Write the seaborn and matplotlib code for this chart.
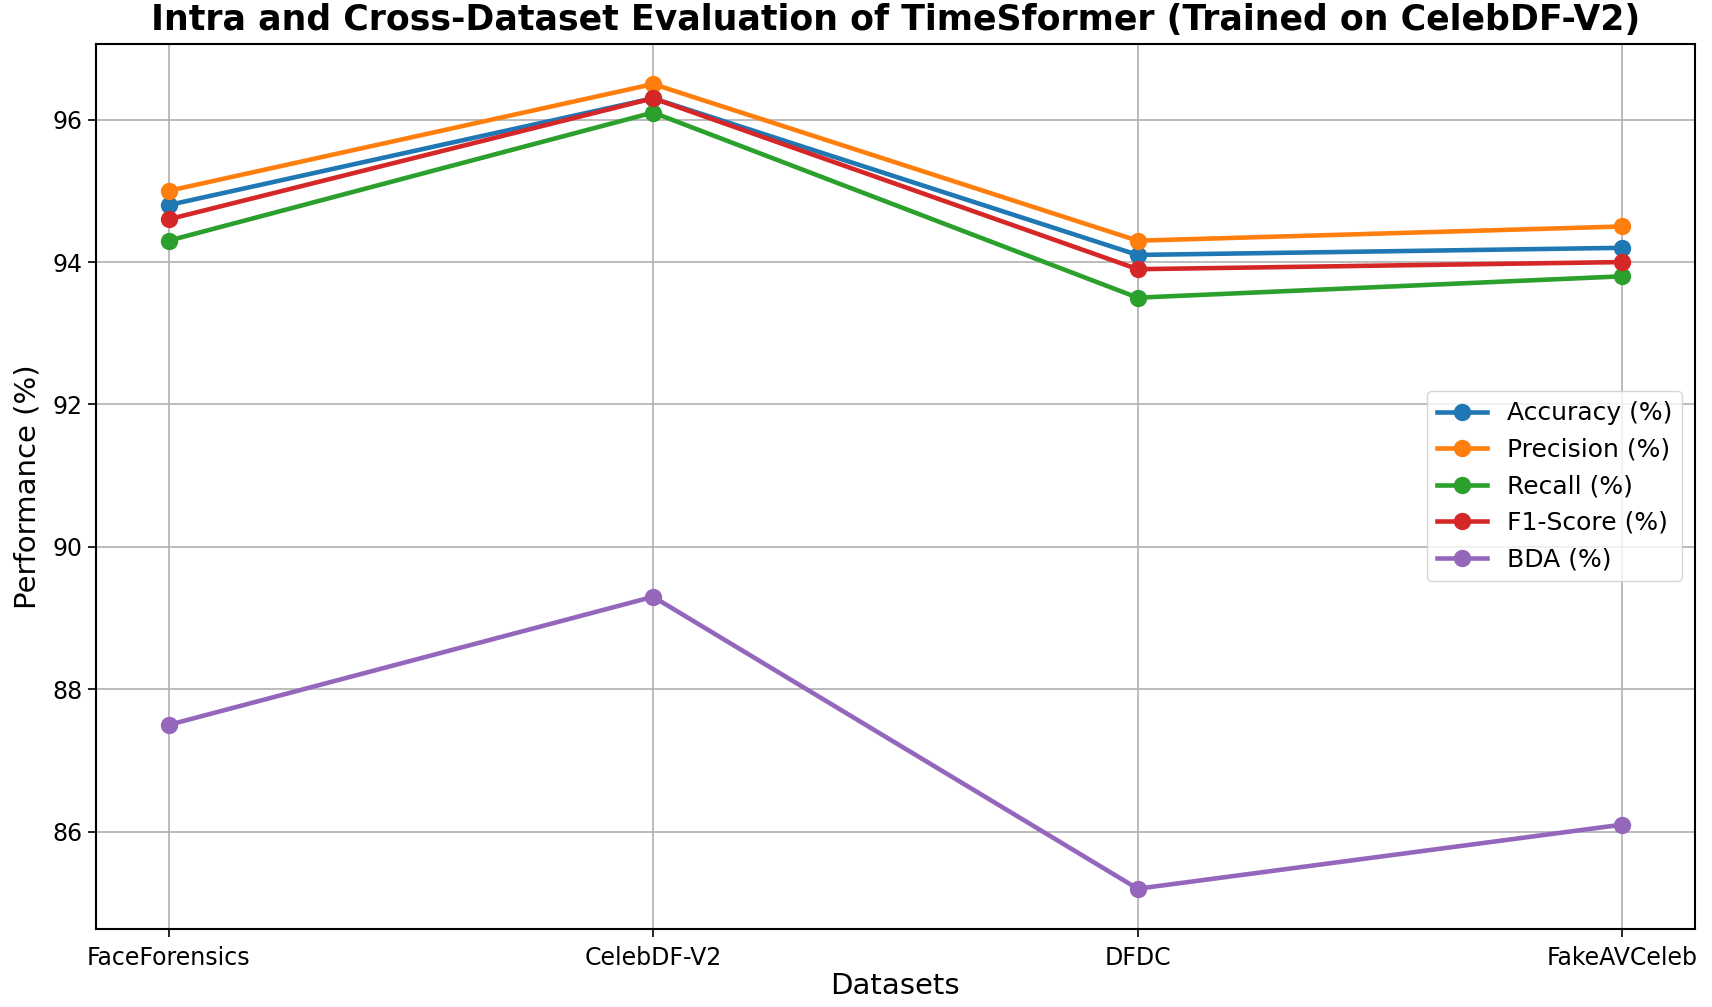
import matplotlib
matplotlib.use("Agg")
import matplotlib.pyplot as plt
import seaborn as sns
import pandas as pd

datasets = ["FaceForensics", "CelebDF-V2", "DFDC", "FakeAVCeleb"]
metrics = ["Accuracy (%)", "Precision (%)", "Recall (%)", "F1-Score (%)", "BDA (%)"]
accuracy = [94.8, 96.3, 94.1, 94.2]
precision = [95.0, 96.5, 94.3, 94.5]
recall = [94.3, 96.1, 93.5, 93.8]
f1_score = [94.6, 96.3, 93.9, 94.0]
bda = [87.5, 89.3, 85.2, 86.1]
colors = ["#1f77b4", "#ff7f0e", "#2ca02c", "#d62728", "#9467bd"]

series = [accuracy, precision, recall, f1_score, bda]
rows = []
for m, vals in zip(metrics, series):
    for d, v in zip(datasets, vals):
        rows.append({"Dataset": d, "Value": v, "Metric": m})
df = pd.DataFrame(rows)

fig = plt.figure(figsize=(17.12, 10.07), dpi=100)
ax = fig.add_axes([0.056, 0.0775, 0.934, 0.879])

sns.lineplot(data=df, x="Dataset", y="Value", hue="Metric", hue_order=metrics,
             palette=colors, marker="o", markersize=12.5, markeredgewidth=0,
             linewidth=3.3, ax=ax, sort=False)

ax.grid(True, color="#b0b0b0", linewidth=1.2)
ax.set_axisbelow(True)
ax.set_yticks([86, 88, 90, 92, 94, 96])
ax.tick_params(axis="both", labelsize=17, length=6, width=1.2)
ax.tick_params(axis="x", pad=6)
for s in ax.spines.values():
    s.set_linewidth(1.5)
ax.set_xlabel("Datasets", fontsize=21, labelpad=2)
ax.set_ylabel("Performance (%)", fontsize=21, labelpad=8)
ax.set_title("Intra and Cross-Dataset Evaluation of TimeSformer (Trained on CelebDF-V2)",
             fontsize=25, fontweight="bold", pad=10)
sns.move_legend(ax, "center right", title=None, fontsize=18)

fig.savefig("out.png", dpi=100)
